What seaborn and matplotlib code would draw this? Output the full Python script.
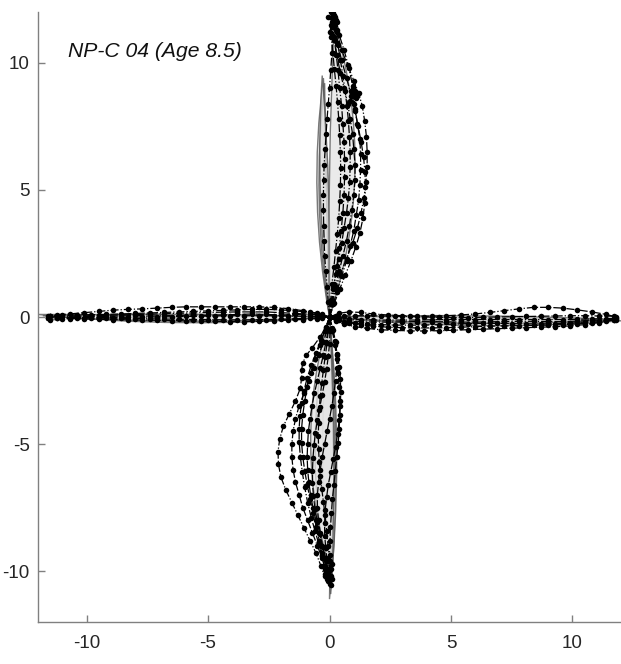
import numpy as np
import pandas as pd
import matplotlib
matplotlib.use("Agg")
import matplotlib.pyplot as plt
import seaborn as sns
from matplotlib.path import Path
from matplotlib.patches import PathPatch

sns.set_style("white")
plt.rcParams["font.family"] = ["Liberation Sans", "DejaVu Sans"]

TITLE = "NP-C 04 (Age 8.5)"
tick_values = [-10, -5, 0, 5, 10]
tick_labels = ["-10", "-5", "0", "5", "10"]

# ---------------- upward saccades ----------------
u1_x = [0, -0.05, -0.1, -0.15, -0.2, -0.22, -0.24, -0.25, -0.25, -0.24, -0.22, -0.18, -0.14, -0.1, -0.05, 0.0, 0.05, 0.1, 0.12, 0.15]
u1_y = [0, 0.6, 1.2, 1.8, 2.4, 3.0, 3.6, 4.2, 4.8, 5.4, 6.0, 6.6, 7.2, 7.8, 8.4, 9.0, 9.7, 10.4, 11.1, 11.7]
u2_x = [0, 0.1, 0.25, 0.45, 0.7, 0.95, 1.15, 1.3, 1.42, 1.5, 1.55, 1.55, 1.52, 1.45, 1.35, 1.2, 1.0, 0.75, 0.5, 0.3, 0.15]
u2_y = [0, 0.5, 1.1, 1.7, 2.3, 2.9, 3.5, 4.1, 4.7, 5.3, 5.9, 6.5, 7.1, 7.7, 8.3, 8.8, 9.3, 9.9, 10.5, 11.2, 11.9]
u3_x = [0, 0.1, 0.25, 0.4, 0.55, 0.7, 0.82, 0.92, 1.0, 1.05, 1.05, 1.0, 0.95, 0.85, 0.75, 0.6, 0.45, 0.3, 0.2, 0.1]
u3_y = [0, 0.6, 1.2, 1.8, 2.4, 3.0, 3.6, 4.2, 4.8, 5.4, 6.0, 6.6, 7.2, 7.8, 8.4, 9.0, 9.6, 10.3, 11.0, 11.6]
u4_x = [0, 0.1, 0.2, 0.3, 0.4, 0.48, 0.55, 0.6, 0.62, 0.62, 0.6, 0.55, 0.5, 0.42, 0.35, 0.28, 0.2, 0.15, 0.1]
u4_y = [0, 0.6, 1.3, 2.0, 2.7, 3.4, 4.1, 4.8, 5.5, 6.2, 6.9, 7.6, 8.3, 9.0, 9.7, 10.3, 10.9, 11.4, 11.8]
u5_x = [0, 0.15, 0.3, 0.5, 0.7, 0.85, 1.0, 1.1, 1.2, 1.25, 1.28, 1.28, 1.25, 1.15, 1.05, 1.0, 0.95, 0.8, 0.6, 0.4, 0.3]
u5_y = [0, 0.5, 1.0, 1.6, 2.2, 2.8, 3.4, 4.0, 4.6, 5.2, 5.8, 6.4, 7.0, 7.6, 8.2, 8.7, 9.1, 9.8, 10.5, 11.1, 11.6]
u6_x = [0, 0.05, 0.15, 0.25, 0.38, 0.5, 0.6, 0.7, 0.78, 0.83, 0.85, 0.85, 0.82, 0.78, 0.72, 0.64, 0.55, 0.45, 0.35, 0.28, 0.22]
u6_y = [0, 0.5, 1.1, 1.7, 2.3, 2.9, 3.5, 4.1, 4.7, 5.3, 5.9, 6.5, 7.1, 7.7, 8.3, 8.9, 9.5, 10.1, 10.7, 11.3, 11.8]
u7_x = [0.0, 0.1, -0.05, 0.15, 0.05, 0.2, 0.1, 0.25, 0.15, 0.3]
u7_y = [11.2, 11.5, 11.8, 11.6, 12.0, 11.9, 11.4, 11.7, 12.05, 11.3]
u8_x = [0.85, 1.0, 1.1, 0.95, 1.05, 1.15, 1.0, 0.9]
u8_y = [8.5, 8.8, 8.6, 9.0, 8.9, 8.7, 8.4, 8.9]
u9_x = [0, 0.05, 0.1, 0.18, 0.25, 0.32, 0.38, 0.42, 0.45, 0.46, 0.45, 0.42, 0.38, 0.33, 0.27, 0.2, 0.14, 0.08, 0.05]
u9_y = [0, 0.65, 1.3, 1.95, 2.6, 3.25, 3.9, 4.55, 5.2, 5.85, 6.5, 7.15, 7.8, 8.45, 9.1, 9.75, 10.4, 11.0, 11.5]
u10_x = [0, 0.2, 0.42, 0.65, 0.88, 1.08, 1.25, 1.38, 1.45, 1.48, 1.46, 1.4, 1.3, 1.18, 1.05, 0.9, 0.7, 0.5, 0.32, 0.18]
u10_y = [0, 0.55, 1.1, 1.65, 2.2, 2.75, 3.3, 3.9, 4.5, 5.1, 5.7, 6.3, 6.9, 7.5, 8.1, 8.7, 9.4, 10.1, 10.8, 11.5]

# ---------------- downward saccades ----------------
d1_x = [0, -0.15, -0.4, -0.7, -0.95, -1.1, -1.15, -1.15, -1.2, -1.4, -1.65, -1.9, -2.05, -2.12, -2.1, -2.0, -1.8, -1.55, -1.3, -1.05, -0.8, -0.55, -0.35, -0.2]
d1_y = [0, -0.4, -0.8, -1.2, -1.5, -1.8, -2.1, -2.4, -2.8, -3.3, -3.8, -4.3, -4.8, -5.3, -5.8, -6.3, -6.8, -7.3, -7.8, -8.3, -8.8, -9.3, -9.8, -10.2]
d2_x = [0, -0.1, -0.25, -0.45, -0.65, -0.85, -1.05, -1.25, -1.4, -1.5, -1.55, -1.55, -1.5, -1.4, -1.25, -1.1, -0.9, -0.7, -0.5, -0.3, -0.15]
d2_y = [0, -0.5, -1.0, -1.5, -2.0, -2.5, -3.0, -3.5, -4.0, -4.5, -5.0, -5.5, -6.0, -6.5, -7.0, -7.5, -8.0, -8.5, -9.0, -9.5, -10.0]
d3_x = [0, 0.1, 0.22, 0.32, 0.4, 0.45, 0.46, 0.45, 0.4, 0.33, 0.25, 0.15, 0.05, -0.05, -0.12, -0.18, -0.2, -0.2, -0.15, -0.1, -0.05]
d3_y = [0, -0.45, -0.95, -1.45, -1.95, -2.45, -2.95, -3.5, -4.05, -4.6, -5.1, -5.6, -6.1, -6.6, -7.1, -7.6, -8.1, -8.6, -9.1, -9.6, -10.1]
d4_x = [0, -0.05, -0.15, -0.25, -0.38, -0.5, -0.62, -0.72, -0.8, -0.87, -0.9, -0.92, -0.9, -0.85, -0.78, -0.68, -0.56, -0.45, -0.33, -0.22, -0.12, -0.05]
d4_y = [0, -0.5, -1.0, -1.5, -2.0, -2.5, -3.0, -3.5, -4.0, -4.5, -5.0, -5.5, -6.0, -6.5, -7.0, -7.5, -8.0, -8.5, -9.0, -9.5, -10.0, -10.4]
d5_x = [0, 0.02, 0.0, -0.05, -0.12, -0.2, -0.3, -0.4, -0.5, -0.58, -0.64, -0.68, -0.7, -0.7, -0.66, -0.6, -0.5, -0.4, -0.28, -0.16, -0.05, 0.05]
d5_y = [0, -0.55, -1.05, -1.55, -2.05, -2.55, -3.05, -3.55, -4.05, -4.55, -5.05, -5.55, -6.05, -6.55, -7.05, -7.55, -8.05, -8.55, -9.05, -9.55, -10.05, -10.55]
d6_x = [0, 0.15, 0.25, 0.3, 0.3, 0.25, 0.18, 0.1, 0.0, -0.1, -0.2, -0.3, -0.38, -0.45, -0.5, -0.5, -0.45, -0.38, -0.3, -0.2, -0.1]
d6_y = [0, -0.5, -1.0, -1.5, -2.0, -2.5, -3.0, -3.5, -4.0, -4.5, -5.0, -5.5, -6.0, -6.5, -7.0, -7.5, -8.0, -8.5, -9.0, -9.5, -9.9]
d7_x = [0, -0.15, -0.35, -0.55, -0.75, -0.92, -1.05, -1.15, -1.22, -1.25, -1.25, -1.2, -1.12, -1.02, -0.9, -0.75, -0.6, -0.45, -0.32, -0.2, -0.1]
d7_y = [0, -0.45, -0.9, -1.4, -1.9, -2.4, -2.9, -3.4, -3.9, -4.4, -4.9, -5.5, -6.1, -6.7, -7.3, -7.9, -8.4, -8.9, -9.4, -9.8, -10.2]
d8_x = [0, -0.2, -0.4, -0.6, -0.78, -0.92, -1.02, -1.1, -1.15, -1.15, -1.1, -1.02, -0.92, -0.8, -0.68, -0.55, -0.42, -0.3, -0.2, -0.1]
d8_y = [0, -0.55, -1.1, -1.65, -2.2, -2.75, -3.3, -3.85, -4.4, -4.95, -5.5, -6.05, -6.6, -7.15, -7.7, -8.25, -8.8, -9.35, -9.9, -10.3]
d9_x = [-0.3, -0.1, 0.05, -0.2, 0.1, -0.05, -0.25, 0.0, 0.1, -0.15]
d9_y = [-9.3, -9.6, -9.9, -10.1, -10.3, -9.5, -9.8, -10.5, -9.7, -10.0]
d10_x = [0, -0.05, -0.1, -0.18, -0.25, -0.32, -0.38, -0.42, -0.45, -0.46, -0.45, -0.42, -0.38, -0.32, -0.25, -0.18, -0.12, -0.06, 0.0, 0.05]
d10_y = [0, -0.52, -1.04, -1.56, -2.08, -2.6, -3.12, -3.64, -4.16, -4.68, -5.2, -5.72, -6.24, -6.76, -7.28, -7.8, -8.4, -9.0, -9.6, -10.2]
d11_x = [0, 0.12, 0.22, 0.3, 0.36, 0.4, 0.42, 0.42, 0.4, 0.36, 0.3, 0.24, 0.18, 0.12, 0.08, 0.04, 0.02, 0.0, -0.02]
d11_y = [0, -0.55, -1.1, -1.65, -2.2, -2.75, -3.3, -3.85, -4.4, -4.95, -5.5, -6.05, -6.6, -7.15, -7.7, -8.25, -8.8, -9.35, -9.9]

# ---------------- leftward saccades ----------------
la_x = [0, -0.5, -1.1, -1.7, -2.3, -2.9, -3.5, -4.1, -4.7, -5.3, -5.9, -6.5, -7.1, -7.7, -8.3, -8.9, -9.5, -10.1, -10.7, -11.2, -11.6]
lb_x = [0, -0.3, -0.8, -1.4, -2.0, -2.6, -3.2, -3.8, -4.4, -5.0, -5.6, -6.2, -6.8, -7.4, -8.0, -8.6, -9.2, -9.8, -10.4, -11.0, -11.5]
l1_y = [0, 0.15, 0.25, 0.33, 0.38, 0.4, 0.4, 0.4, 0.4, 0.4, 0.4, 0.38, 0.35, 0.32, 0.3, 0.27, 0.22, 0.17, 0.12, 0.08, 0.05]
l2_y = [0, 0.05, 0.1, 0.14, 0.17, 0.2, 0.2, 0.2, 0.19, 0.18, 0.16, 0.15, 0.13, 0.11, 0.1, 0.08, 0.06, 0.05, 0.04, 0.03, 0.02]
l3_y = [0, 0.02, 0.03, 0.04, 0.05, 0.05, 0.05, 0.05, 0.04, 0.03, 0.02, 0.01, 0.0, 0.0, -0.01, -0.02, -0.02, -0.02, -0.02, -0.02, -0.03]
l4_y = [0, -0.03, -0.05, -0.07, -0.09, -0.1, -0.11, -0.11, -0.11, -0.1, -0.1, -0.09, -0.08, -0.07, -0.06, -0.05, -0.05, -0.04, -0.05, -0.08, -0.12]
l5_y = [0, 0.08, 0.12, 0.1, 0.08, 0.1, 0.12, 0.1, 0.08, 0.06, 0.08, 0.06, 0.05, 0.04, 0.06, 0.04, 0.02, 0.03, 0.01, 0.0, 0.02]
l6_y = [0, -0.06, -0.1, -0.12, -0.15, -0.17, -0.18, -0.18, -0.17, -0.16, -0.15, -0.14, -0.13, -0.12, -0.11, -0.1, -0.09, -0.08, -0.06, -0.04, -0.02]
l7_y = [0, 0.1, 0.18, 0.24, 0.28, 0.3, 0.3, 0.28, 0.26, 0.24, 0.22, 0.2, 0.18, 0.16, 0.14, 0.12, 0.1, 0.09, 0.08, 0.06, 0.04]

# ---------------- rightward saccades ----------------
ra_x = [0, 0.4, 0.8, 1.3, 1.8, 2.4, 3.0, 3.6, 4.2, 4.8, 5.4, 6.0, 6.6, 7.2, 7.8, 8.4, 9.0, 9.6, 10.2, 10.8, 11.4, 11.8]
rb_x = [0, 0.25, 0.6, 1.05, 1.55, 2.1, 2.7, 3.3, 3.9, 4.5, 5.1, 5.7, 6.3, 6.9, 7.5, 8.1, 8.7, 9.3, 9.9, 10.5, 11.1, 11.7]
r1_y = [0, 0.15, 0.2, 0.18, 0.12, 0.08, 0.05, 0.03, 0.03, 0.05, 0.08, 0.12, 0.18, 0.25, 0.32, 0.38, 0.38, 0.35, 0.28, 0.2, 0.1, 0.0]
r2_y = [0, -0.15, -0.28, -0.38, -0.45, -0.5, -0.53, -0.55, -0.55, -0.54, -0.52, -0.5, -0.48, -0.46, -0.44, -0.42, -0.4, -0.38, -0.35, -0.3, -0.22, -0.12]
r3_y = [0, -0.05, -0.08, -0.1, -0.12, -0.12, -0.12, -0.12, -0.11, -0.1, -0.1, -0.1, -0.1, -0.1, -0.1, -0.1, -0.1, -0.1, -0.09, -0.08, -0.06, -0.05]
r4_y = [0, -0.1, -0.18, -0.24, -0.28, -0.3, -0.32, -0.32, -0.32, -0.3, -0.28, -0.26, -0.25, -0.25, -0.26, -0.27, -0.27, -0.26, -0.24, -0.2, -0.15, -0.1]
r5_y = [0, 0.02, 0.04, 0.05, 0.05, 0.04, 0.03, 0.02, 0.0, -0.01, -0.02, -0.02, -0.01, 0.0, 0.01, 0.02, 0.03, 0.04, 0.05, 0.05, 0.04, 0.03]
r6_y = [0, -0.08, -0.14, -0.18, -0.2, -0.2, -0.19, -0.18, -0.18, -0.19, -0.2, -0.2, -0.19, -0.18, -0.17, -0.17, -0.18, -0.18, -0.16, -0.13, -0.1, -0.08]
r7_y = [0, -0.12, -0.22, -0.3, -0.36, -0.4, -0.42, -0.43, -0.43, -0.42, -0.4, -0.38, -0.36, -0.35, -0.34, -0.33, -0.32, -0.3, -0.27, -0.22, -0.16, -0.1]

# ---------------- gray template lenses: tip, control A, control B ----------------
lens_tip_x = [-0.25, -0.2, -0.3, 0.2, 0.0, 0.05, 0.0, 0.1, -12.0, -11.8, 12.0, 11.8]
lens_tip_y = [9.4, 9.2, 9.5, 11.6, -11.1, -10.9, -10.5, -10.2, 0.1, 0.05, -0.15, -0.1]
lens_ca_x = [-0.9, -0.75, -0.6, -0.1, 0.6, 0.5, 0.4, 0.3, -6.0, -6.0, 6.0, 6.0]
lens_ca_y = [4.7, 4.6, 4.8, 5.8, -5.5, -5.4, -5.2, -5.0, -0.5, -0.35, -0.6, -0.45]
lens_cb_x = [0.0, -0.15, 0.1, 2.0, 0.1, -0.6, -1.2, -1.6, -6.0, -6.0, 6.0, 6.0]
lens_cb_y = [4.7, 4.6, 4.8, 5.8, -5.5, -5.4, -5.2, -5.0, 0.1, 0.2, 0.0, 0.15]

trajectories = {
    "u1": (u1_x, u1_y), "u2": (u2_x, u2_y), "u3": (u3_x, u3_y), "u4": (u4_x, u4_y),
    "u5": (u5_x, u5_y), "u6": (u6_x, u6_y), "u7": (u7_x, u7_y), "u8": (u8_x, u8_y),
    "u9": (u9_x, u9_y), "u10": (u10_x, u10_y),
    "d1": (d1_x, d1_y), "d2": (d2_x, d2_y), "d3": (d3_x, d3_y), "d4": (d4_x, d4_y),
    "d5": (d5_x, d5_y), "d6": (d6_x, d6_y), "d7": (d7_x, d7_y), "d8": (d8_x, d8_y),
    "d9": (d9_x, d9_y), "d10": (d10_x, d10_y), "d11": (d11_x, d11_y),
    "l1": (la_x, l1_y), "l2": (lb_x, l2_y), "l3": (la_x, l3_y), "l4": (lb_x, l4_y),
    "l5": (lb_x, l5_y), "l6": (la_x, l6_y), "l7": (lb_x, l7_y),
    "r1": (ra_x, r1_y), "r2": (rb_x, r2_y), "r3": (ra_x, r3_y), "r4": (rb_x, r4_y),
    "r5": (rb_x, r5_y), "r6": (ra_x, r6_y), "r7": (ra_x, r7_y),
}

rows = []
for name, (xs, ys) in trajectories.items():
    for i, (x, y) in enumerate(zip(xs, ys)):
        rows.append((name, i, x, y))
df = pd.DataFrame(rows, columns=["traj", "step", "x", "y"])

fig = plt.figure(figsize=(6.21, 6.64), dpi=100)
ax = fig.add_axes([38 / 621, 42 / 664, 583 / 621, 610 / 664])

# template lenses
for tx, ty, ax1, ay1, bx1, by1 in zip(lens_tip_x, lens_tip_y, lens_ca_x, lens_ca_y, lens_cb_x, lens_cb_y):
    verts = [(0, 0), (ax1, ay1), (tx, ty), (bx1, by1), (0, 0), (0, 0)]
    codes = [Path.MOVETO, Path.CURVE3, Path.CURVE3, Path.CURVE3, Path.CURVE3, Path.CLOSEPOLY]
    ax.add_patch(PathPatch(Path(verts, codes), facecolor="#e4e4e4", edgecolor="#505050",
                           lw=1.0, alpha=0.75, zorder=1))

sns.lineplot(data=df, x="x", y="y", units="traj", estimator=None, sort=False,
             color="black", linestyle="-.", lw=0.9, marker="o", markersize=4.0,
             markeredgewidth=0, legend=False, ax=ax, zorder=2)

ax.set_xlim(-12, 12)
ax.set_ylim(-12, 12)
ax.set_xticks(tick_values)
ax.set_xticklabels(tick_labels)
ax.set_yticks(tick_values)
ax.set_yticklabels(tick_labels)
ax.set_xlabel("")
ax.set_ylabel("")
for s in ["top", "right"]:
    ax.spines[s].set_visible(False)
for s in ["left", "bottom"]:
    ax.spines[s].set_color("#808080")
    ax.spines[s].set_linewidth(1.0)
ax.tick_params(direction="in", length=5, width=1, color="#808080",
               labelsize=13.5, labelcolor="#262626", bottom=True, left=True)
ax.tick_params(axis="x", pad=9)
ax.tick_params(axis="y", pad=6)

ax.text(0.051, 0.936, TITLE, transform=ax.transAxes, fontsize=15.2, style="italic",
        color="#111111", ha="left", va="center")

fig.savefig("out.png", dpi=100)
